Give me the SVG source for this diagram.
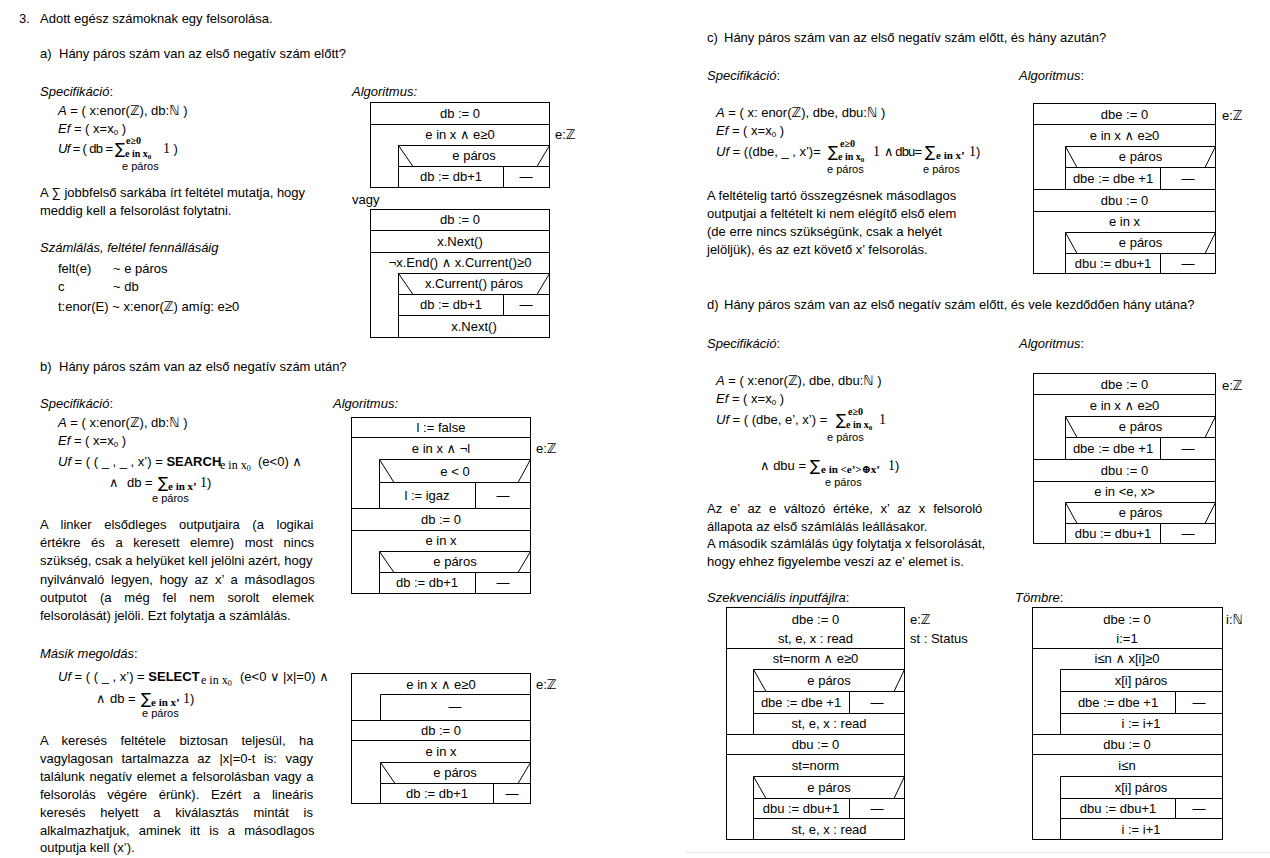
<svg xmlns="http://www.w3.org/2000/svg" width="1270" height="858" viewBox="0 0 1270 858">
<style>
text{font-family:"Liberation Sans","DejaVu Sans",sans-serif;font-size:13px;fill:#000}
.i{font-style:italic}
.c{text-anchor:middle}
.s{font-size:11px}
.b{font-weight:bold}
.m{font-family:"Liberation Serif","DejaVu Serif",serif;font-weight:bold;font-size:10px}
.mi{font-family:"Liberation Serif","DejaVu Serif",serif;font-weight:bold;font-size:11px}
.ms{font-family:"Liberation Serif","DejaVu Serif",serif;font-size:12px}
.sg{font-family:"DejaVu Sans",sans-serif;font-size:15px}
.one{font-family:"Liberation Serif","DejaVu Serif",serif;font-size:14px}
.st rect,.st path{fill:none;stroke:#000;stroke-width:1}
</style>
<rect width="1270" height="858" fill="#fff"/>

<g id="left-a">
<text x="19" y="22.5">3.</text>
<text x="40" y="22.5">Adott egész számoknak egy felsorolása.</text>
<text x="40" y="57.5">a)</text><text x="59" y="57.5">Hány páros szám van az első negatív szám előtt?</text>
<text x="40" y="95.5"><tspan class="i">Specifikáció</tspan>:</text>
<text x="58" y="114.5"><tspan class="i">A</tspan> = ( x:enor(ℤ), db:ℕ )</text>
<text x="58" y="132.5"><tspan class="i">Ef</tspan> = ( x=x<tspan font-size="8" dy="2">0</tspan><tspan dy="-2"> )</tspan></text>
<text x="58" y="152.5" textLength="55" lengthAdjust="spacing"><tspan class="i">Uf</tspan> = ( db =</text>
<text class="sg" x="115" y="154">∑</text>
<text class="m" x="126" y="144">e≥0</text>
<text class="m" x="125" y="157">e in x<tspan font-size="7" dy="2">0</tspan></text>
<text x="163" y="152.5"><tspan class="one">1</tspan> )</text>
<text class="s" x="122" y="169.5">e páros</text>
<text x="40" y="196.5">A ∑ jobbfelső sarkába írt feltétel mutatja, hogy</text>
<text x="40" y="214.5">meddig kell a felsorolást folytatni.</text>
<text x="40" y="251.5" class="i">Számlálás, feltétel fennállásáig</text>
<text x="58" y="272.5">felt(e)</text><text x="113" y="272.5">~ e páros</text>
<text x="58" y="290.5">c</text><text x="113" y="290.5">~ db</text>
<text x="58" y="310.5">t:enor(E) ~ x:enor(ℤ)  amíg: e≥0</text>
</g>

<g id="alg-a1" class="st">
<text class="i" x="352" y="95.5">Algoritmus:</text>
<rect x="370.5" y="102.5" width="179" height="85"/>
<path d="M370.5 124.5H549.5M398.5 145.5H549.5M398.5 166.5H549.5M398.5 145.5V187.5M503.5 166.5V187.5M398.5 145.5L413 166.5M549.5 145.5L537 166.5"/>
<text class="c" x="460" y="117.5">db := 0</text>
<text class="c" x="460" y="139">e in x ∧ e≥0</text>
<text class="c" x="474" y="160">e páros</text>
<text class="c" x="451" y="181">db := db+1</text>
<text class="c" x="526" y="181">—</text>
<text x="555" y="139">e:ℤ</text>
</g>

<g id="alg-a2" class="st">
<text x="352" y="203.5">vagy</text>
<rect x="370.5" y="209.5" width="179" height="128"/>
<path d="M370.5 230.5H549.5M370.5 252.5H549.5M398.5 273.5H549.5M398.5 294.5H549.5M398.5 315.5H549.5M398.5 273.5V337.5M503.5 294.5V315.5M398.5 273.5L413 294.5M549.5 273.5L537 294.5"/>
<text class="c" x="460" y="224">db := 0</text>
<text class="c" x="460" y="245.5">x.Next()</text>
<text class="c" x="460" y="267">¬x.End() ∧ x.Current()≥0</text>
<text class="c" x="474" y="288">x.Current() páros</text>
<text class="c" x="451" y="309">db := db+1</text>
<text class="c" x="526" y="309">—</text>
<text class="c" x="474" y="330.5">x.Next()</text>
</g>

<g id="left-b">
<text x="40" y="370.5">b)</text><text x="59" y="370.5">Hány páros szám van az első negatív szám után?</text>
<text x="40" y="407.5"><tspan class="i">Specifikáció</tspan>:</text>
<text x="58" y="426.5"><tspan class="i">A</tspan> = ( x:enor(ℤ), db:ℕ )</text>
<text x="58" y="444.5"><tspan class="i">Ef</tspan> = ( x=x<tspan font-size="8" dy="2">0</tspan><tspan dy="-2"> )</tspan></text>
<text x="58" y="465.5"><tspan class="i">Uf</tspan> = ( ( _ , _ , x’) = <tspan class="b">SEARCH</tspan></text>
<text class="ms" x="220" y="469">e in x<tspan font-size="8" dy="2">0</tspan></text>
<text x="258" y="465.5">(e&lt;0) ∧</text>
<text x="109" y="486.5">∧</text><text x="127" y="486.5">db =</text>
<text class="sg" x="158" y="488">∑</text>
<text class="mi" x="168" y="490">e in x’</text>
<text x="200" y="486.5"><tspan class="one">1</tspan>)</text>
<text class="s" x="152" y="502">e páros</text>
<text x="40" y="528.5" word-spacing="9">A linker elsődleges outputjaira (a logikai</text>
<text x="40" y="546.5" word-spacing="7">értékre és a keresett elemre) most nincs</text>
<text x="40" y="565">szükség, csak a helyüket kell jelölni azért, hogy</text>
<text x="40" y="583.5" word-spacing="3.1">nyilvánvaló legyen, hogy az x’ a másodlagos</text>
<text x="40" y="601.5" word-spacing="9.3">outputot (a még fel nem sorolt elemek</text>
<text x="40" y="619.5">felsorolását) jelöli. Ezt folytatja a számlálás.</text>
</g>

<g id="alg-b1" class="st">
<text class="i" x="333" y="407.5">Algoritmus:</text>
<rect x="351.5" y="417.5" width="179" height="176"/>
<path d="M351.5 437.5H530.5M379.5 459.5H530.5M379.5 482.5H530.5M351.5 508.5H530.5M351.5 530.5H530.5M379.5 551.5H530.5M379.5 572.5H530.5M379.5 459.5V508.5M379.5 551.5V593.5M475.5 482.5V508.5M475.5 572.5V593.5M379.5 459.5L394 482.5M530.5 459.5L518 482.5M379.5 551.5L394 572.5M530.5 551.5L518 572.5"/>
<text class="c" x="441" y="432">l := false</text>
<text class="c" x="441" y="453">e in x ∧ ¬l</text>
<text class="c" x="455" y="475.5">e &lt; 0</text>
<text class="c" x="427" y="499.5">l := igaz</text>
<text class="c" x="503" y="499.5">—</text>
<text class="c" x="441" y="523.5">db := 0</text>
<text class="c" x="441" y="545">e in x</text>
<text class="c" x="455" y="566">e páros</text>
<text class="c" x="427" y="587">db := db+1</text>
<text class="c" x="503" y="587">—</text>
<text x="536" y="453">e:ℤ</text>
</g>

<g id="left-b2">
<text x="40" y="657.5"><tspan class="i">Másik megoldás</tspan>:</text>
<text x="58" y="680.5"><tspan class="i">Uf</tspan> = ( ( _ , x’) = <tspan class="b">SELECT</tspan></text>
<text class="ms" x="201" y="684">e in x<tspan font-size="8" dy="2">0</tspan></text>
<text x="240" y="680.5">(e&lt;0 ∨ |x|=0) ∧</text>
<text x="96" y="702.5">∧</text><text x="110" y="702.5">db =</text>
<text class="sg" x="141" y="704">∑</text>
<text class="mi" x="151" y="706">e in x’</text>
<text x="183" y="702.5"><tspan class="one">1</tspan>)</text>
<text class="s" x="142" y="717">e páros</text>
<text x="40" y="744.5" word-spacing="9.9">A keresés feltétele biztosan teljesül, ha</text>
<text x="40" y="762.5" word-spacing="4.9">vagylagosan tartalmazza az |x|=0-t is: vagy</text>
<text x="40" y="780.5" word-spacing="1">találunk negatív elemet a felsorolásban vagy a</text>
<text x="40" y="798.5" word-spacing="8.1">felsorolás végére érünk). Ezért a lineáris</text>
<text x="40" y="816.5" word-spacing="11.1">keresés helyett a kiválasztás mintát is</text>
<text x="40" y="834.5" word-spacing="5.6">alkalmazhatjuk, aminek itt is a másodlagos</text>
<text x="40" y="852">outputja kell (x’).</text>
</g>

<g id="alg-b2" class="st">
<rect x="351.5" y="673.5" width="179" height="130"/>
<path d="M380.5 694.5H530.5M351.5 720.5H530.5M351.5 740.5H530.5M380.5 762.5H530.5M380.5 783.5H530.5M380.5 694.5V720.5M380.5 762.5V803.5M493.5 783.5V803.5M380.5 762.5L395 783.5M530.5 762.5L518 783.5"/>
<text class="c" x="441" y="688.5">e in x ∧ e≥0</text>
<text class="c" x="455" y="711">—</text>
<text class="c" x="441" y="734.5">db := 0</text>
<text class="c" x="441" y="755.5">e in x</text>
<text class="c" x="455" y="777">e páros</text>
<text class="c" x="437" y="797.5">db := db+1</text>
<text class="c" x="512" y="797.5">—</text>
<text x="536" y="689">e:ℤ</text>
</g>

<g id="right-c">
<text x="707" y="41.5">c)</text><text x="724" y="41.5">Hány páros szám van az első negatív szám előtt, és hány azután?</text>
<text x="707" y="79.5"><tspan class="i">Specifikáció</tspan>:</text>
<text x="1019" y="79.5"><tspan class="i">Algoritmus</tspan>:</text>
<text x="716" y="116.5"><tspan class="i">A</tspan> = ( x: enor(ℤ), dbe, dbu:ℕ )</text>
<text x="716" y="134.5"><tspan class="i">Ef</tspan> = ( x=x<tspan font-size="8" dy="2">0</tspan><tspan dy="-2"> )</tspan></text>
<text x="716" y="155.5"><tspan class="i">Uf</tspan> = ((dbe, _ , x’)=</text>
<text class="sg" x="828" y="157">∑</text>
<text class="m" x="840" y="147">e≥0</text>
<text class="m" x="838" y="160">e in x<tspan font-size="7" dy="2">0</tspan></text>
<text x="873" y="155.5" class="one">1</text>
<text x="884" y="155.5" textLength="38" lengthAdjust="spacing">∧ dbu=</text>
<text class="sg" x="925" y="157">∑</text>
<text class="mi" x="936" y="159">e in x’</text>
<text x="969" y="155.5"><tspan class="one">1</tspan>)</text>
<text class="s" x="827" y="172.5">e páros</text>
<text class="s" x="923" y="172.5">e páros</text>
<text x="707" y="199.5">A feltételig tartó összegzésnek másodlagos</text>
<text x="707" y="217.5">outputjai a feltételt ki nem elégítő első elem</text>
<text x="707" y="235.5">(de erre nincs szükségünk, csak a helyét</text>
<text x="707" y="253.5">jelöljük), és az ezt követő x’ felsorolás.</text>
</g>

<g id="alg-c" class="st">
<rect x="1033.5" y="103.5" width="182" height="170"/>
<path d="M1033.5 124.5H1215.5M1065.5 146.5H1215.5M1065.5 167.5H1215.5M1033.5 189.5H1215.5M1033.5 211.5H1215.5M1065.5 232.5H1215.5M1065.5 253.5H1215.5M1065.5 146.5V189.5M1065.5 232.5V273.5M1160.5 167.5V189.5M1160.5 253.5V273.5M1065.5 146.5L1077 167.5M1215.5 146.5L1205 167.5M1065.5 232.5L1077 253.5M1215.5 232.5L1205 253.5"/>
<text class="c" x="1124.5" y="118.5">dbe := 0</text>
<text class="c" x="1124.5" y="139.5">e in x ∧ e≥0</text>
<text class="c" x="1140.5" y="161">e páros</text>
<text class="c" x="1113" y="182.5">dbe := dbe +1</text>
<text class="c" x="1188" y="182.5">—</text>
<text class="c" x="1124.5" y="204.5">dbu := 0</text>
<text class="c" x="1124.5" y="226">e in x</text>
<text class="c" x="1140.5" y="247">e páros</text>
<text class="c" x="1113" y="267.5">dbu := dbu+1</text>
<text class="c" x="1188" y="267.5">—</text>
<text x="1222" y="120">e:ℤ</text>
</g>

<g id="right-d">
<text x="707" y="308.5">d)</text><text x="724" y="308.5">Hány páros szám van az első negatív szám előtt, és vele kezdődően hány utána?</text>
<text x="707" y="347.5"><tspan class="i">Specifikáció</tspan>:</text>
<text x="1019" y="347.5"><tspan class="i">Algoritmus</tspan>:</text>
<text x="716" y="384.5"><tspan class="i">A</tspan> = ( x:enor(ℤ), dbe, dbu:ℕ )</text>
<text x="716" y="402.5"><tspan class="i">Ef</tspan> = ( x=x<tspan font-size="8" dy="2">0</tspan><tspan dy="-2"> )</tspan></text>
<text x="716" y="423.5"><tspan class="i">Uf</tspan> = (  (dbe, e’, x’) =</text>
<text class="sg" x="836" y="425">∑</text>
<text class="m" x="848" y="415">e≥0</text>
<text class="m" x="846" y="428">e in x<tspan font-size="7" dy="2">0</tspan></text>
<text x="879" y="423.5" class="one">1</text>
<text class="s" x="827" y="441">e páros</text>
<text x="760" y="469.5">∧ dbu =</text>
<text class="sg" x="810" y="471">∑</text>
<text class="mi" x="821" y="473">e in &lt;e’&gt;⊕x’</text>
<text x="888" y="469.5"><tspan class="one">1</tspan>)</text>
<text class="s" x="825" y="485.5">e páros</text>
<text x="707" y="512.5" word-spacing="4.2">Az e’ az e változó értéke, x’ az x felsoroló</text>
<text x="707" y="530.5">állapota az első számlálás leállásakor.</text>
<text x="707" y="548">A második számlálás úgy folytatja x felsorolását,</text>
<text x="707" y="566">hogy ehhez figyelembe veszi az e’ elemet is.</text>
</g>

<g id="alg-d" class="st">
<rect x="1033.5" y="373.5" width="182" height="170"/>
<path d="M1033.5 394.5H1215.5M1065.5 416.5H1215.5M1065.5 437.5H1215.5M1033.5 459.5H1215.5M1033.5 481.5H1215.5M1065.5 502.5H1215.5M1065.5 523.5H1215.5M1065.5 416.5V459.5M1065.5 502.5V543.5M1160.5 437.5V459.5M1160.5 523.5V543.5M1065.5 416.5L1077 437.5M1215.5 416.5L1205 437.5M1065.5 502.5L1077 523.5M1215.5 502.5L1205 523.5"/>
<text class="c" x="1124.5" y="388.5">dbe := 0</text>
<text class="c" x="1124.5" y="409.5">e in x ∧ e≥0</text>
<text class="c" x="1140.5" y="431">e páros</text>
<text class="c" x="1113" y="452.5">dbe := dbe +1</text>
<text class="c" x="1188" y="452.5">—</text>
<text class="c" x="1124.5" y="474.5">dbu := 0</text>
<text class="c" x="1124.5" y="496">e in &lt;e, x&gt;</text>
<text class="c" x="1140.5" y="517">e páros</text>
<text class="c" x="1113" y="537.5">dbu := dbu+1</text>
<text class="c" x="1188" y="537.5">—</text>
<text x="1222" y="390">e:ℤ</text>
</g>

<g id="alg-seq" class="st">
<text x="707" y="601.5"><tspan class="i">Szekvenciális inputfájlra</tspan>:</text>
<rect x="726.5" y="607.5" width="178" height="232"/>
<path d="M726.5 648.5H904.5M753.5 669.5H904.5M753.5 691.5H904.5M753.5 713.5H904.5M726.5 734.5H904.5M726.5 754.5H904.5M753.5 776.5H904.5M753.5 798.5H904.5M753.5 818.5H904.5M753.5 669.5V734.5M753.5 776.5V839.5M849.5 691.5V713.5M849.5 798.5V818.5M753.5 669.5L766 691.5M904.5 669.5L894 691.5M753.5 776.5L766 798.5M904.5 776.5L894 798.5"/>
<text class="c" x="815.5" y="623.5">dbe := 0</text>
<text class="c" x="815.5" y="642.5">st, e, x : read</text>
<text class="c" x="815.5" y="663">st=norm ∧ e≥0</text>
<text class="c" x="829" y="684.5">e páros</text>
<text class="c" x="801" y="706.5">dbe := dbe +1</text>
<text class="c" x="877" y="706.5">—</text>
<text class="c" x="829" y="728">st, e, x : read</text>
<text class="c" x="815.5" y="748.5">dbu := 0</text>
<text class="c" x="815.5" y="769.5">st=norm</text>
<text class="c" x="829" y="791.5">e páros</text>
<text class="c" x="801" y="812.5">dbu := dbu+1</text>
<text class="c" x="877" y="812.5">—</text>
<text class="c" x="829" y="833.5">st, e, x : read</text>
<text x="910" y="623.5">e:ℤ</text>
<text x="910" y="642.5">st : Status</text>
</g>

<g id="alg-arr" class="st">
<text x="1015" y="601.5"><tspan class="i">Tömbre</tspan>:</text>
<rect x="1032.5" y="607.5" width="190" height="232"/>
<path d="M1032.5 648.5H1222.5M1060.5 669.5H1222.5M1060.5 691.5H1222.5M1060.5 713.5H1222.5M1032.5 734.5H1222.5M1032.5 754.5H1222.5M1060.5 776.5H1222.5M1060.5 798.5H1222.5M1060.5 818.5H1222.5M1060.5 669.5V734.5M1060.5 776.5V839.5M1175.5 691.5V713.5M1175.5 798.5V818.5"/>
<text class="c" x="1127" y="623.5">dbe := 0</text>
<text class="c" x="1127" y="642.5">i:=1</text>
<text class="c" x="1127" y="663">i≤n ∧ x[i]≥0</text>
<text class="c" x="1141" y="684.5">x[i] páros</text>
<text class="c" x="1118" y="706.5">dbe := dbe +1</text>
<text class="c" x="1199" y="706.5">—</text>
<text class="c" x="1141" y="728">i := i+1</text>
<text class="c" x="1127" y="748.5">dbu := 0</text>
<text class="c" x="1127" y="769.5">i≤n</text>
<text class="c" x="1141" y="791.5">x[i] páros</text>
<text class="c" x="1118" y="812.5">dbu := dbu+1</text>
<text class="c" x="1199" y="812.5">—</text>
<text class="c" x="1141" y="833.5">i := i+1</text>
<text x="1226" y="623.5">i:ℕ</text>
</g>

<path d="M685 852.5H1270" stroke="#e6e6e6" stroke-width="1" fill="none"/>
</svg>
